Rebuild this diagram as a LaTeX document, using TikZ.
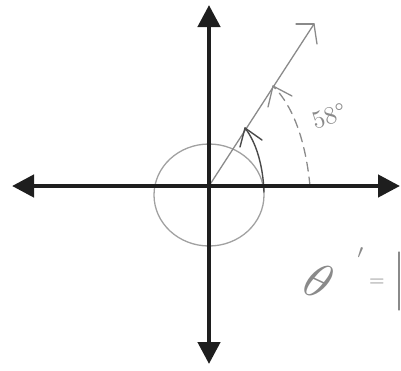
\documentclass[tikz,border=0pt]{standalone}
\usetikzlibrary{arrows.meta}
\definecolor{axisc}{HTML}{1E1E1E}
\definecolor{pencil}{HTML}{8A8A8A}
\definecolor{pencild}{HTML}{4A4A4A}
\begin{document}
\begin{tikzpicture}[x=1pt,y=-1pt,
  axis/.style={axisc,line width=4.5pt,{Triangle[length=22pt,width=22pt]}-{Triangle[length=22pt,width=22pt]}},
  pen/.style={pencil,line width=1.3pt,line cap=round,line join=round},
  pendark/.style={pencild,line width=1.4pt,line cap=round,line join=round},
  hand/.style={pencil,inner sep=0pt}]
\useasboundingbox (0,0) rectangle (401,370);
% axis end points
\coordinate (O) at (209,186);
\coordinate (L) at (12,186);
\coordinate (R) at (400,186);
\coordinate (T) at (209,5);
\coordinate (B) at (209,364);
% circle
\draw[pen,pencil!80] (209,195) ellipse [x radius=55pt,y radius=51pt];
% terminal ray
\coordinate (P) at (314,24);
\draw[pen] (O) -- (P);
\draw[pen] (P) -- (296,24);
\draw[pen] (P) -- (317,44);
% inner solid arc with arrow
\coordinate (A1) at (264,192);
\coordinate (A2) at (245,128);
\draw[pendark] (A1) .. controls (263,165) and (256,142) .. (A2);
\draw[pendark] (A2) -- (240,147);
\draw[pendark] (A2) -- (262,140);
% outer dashed arc with arrow
\coordinate (D1) at (310,186);
\coordinate (D2) at (273,86);
\draw[pen,dash pattern=on 9pt off 6pt] (D1) .. controls (306,145) and (295,108) .. (D2);
\draw[pen] (D2) -- (268,107);
\draw[pen] (D2) -- (292,96);
% axes
\draw[axis] (L) -- (R);
\draw[axis] (B) -- (T);
% labels
\node[hand,rotate=18,scale=2.5,anchor=west] (ang) at (312,122) {58°};
\node[hand,rotate=-25,scale=5] (th) at (319,281) {$\theta$};
\node[hand,scale=2.8] (pr) at (361,258) {$'$};
\node[hand,scale=2] (eq) at (377,283) {$=$};
\draw[pen] (399,252) -- (399,310);
\end{tikzpicture}
\end{document}
